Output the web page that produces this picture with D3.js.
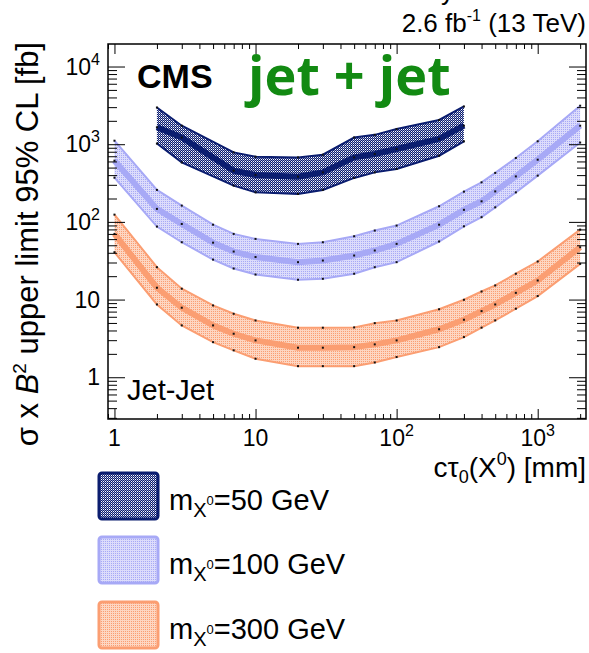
<!DOCTYPE html>
<html>
<head>
<meta charset="utf-8">
<script src="https://cdn.jsdelivr.net/npm/d3@7"></script>
<style>
  body { margin: 0; background: #fff; }
  text { font-family: "Liberation Sans", Arial, sans-serif; fill: #000; }
</style>
</head>
<body>
<svg id="chart" width="589" height="653"></svg>
<script>
    // proper decay length c*tau0 [mm]
    var ctau50 = [2, 3, 7, 10, 20, 30, 50, 70, 100, 200, 300];
    var ctau = [1, 2, 3, 5, 7, 10, 20, 30, 50, 70, 100, 200, 300, 400, 500, 700, 1000, 2000];

    // m = 50 GeV : expected limit and band edges [fb]
    var exp50 = [1650, 1220, 456, 402, 382, 434, 677, 748, 868, 1170, 1730];
    var hi50  = [2970, 1730, 785, 691, 676, 733, 1220, 1320, 1570, 2050, 3060];
    var lo50  = [1020, 583, 293, 240, 229, 258, 368, 434, 480, 711, 1090];

    // m = 100 GeV
    var exp100 = [614, 147, 94, 54, 41.5, 35.3, 30.3, 31.8, 36.9, 42.8, 52.1, 92, 143, 184, 247, 385, 632, 1730];
    var hi100  = [1110, 258, 162, 92, 70, 60.4, 52.1, 54.7, 65.3, 77.3, 89.6, 159, 245, 323, 427, 665, 1090, 3130];
    var lo100  = [371, 87, 54.7, 32.7, 25.1, 21.0, 18.0, 18.5, 21.5, 26.1, 30.3, 55.9, 87.7, 115, 154, 240, 394, 1050];

    // m = 300 GeV
    var exp300 = [70, 14.2, 7.85, 4.65, 3.63, 2.98, 2.40, 2.40, 2.44, 2.65, 2.98, 4.15, 5.5, 7.1, 8.65, 12.2, 17.6, 47.2];
    var hi300  = [124, 26.1, 13.8, 8.4, 6.56, 5.38, 4.34, 4.34, 4.38, 4.97, 5.38, 7.5, 9.94, 12.7, 15.2, 21.5, 30.9, 79.6];
    var lo300  = [40.7, 8.65, 4.65, 2.83, 2.22, 1.73, 1.39, 1.39, 1.39, 1.55, 1.82, 2.44, 3.29, 4.35, 5.39, 7.62, 11.1, 28.8];

    var massLabels = ["50", "100", "300"];
    var xTickLabels = [["1", ""], ["10", ""], ["10", "2"], ["10", "3"]];
    var yTickLabels = [["1", ""], ["10", ""], ["10", "2"], ["10", "3"], ["10", "4"]];

    var xDomain = [0.9, 2200];
    var yDomain = [0.29, 19500];

    var W = 589, H = 653;
    var fL = 108, fR = 586, fT = 44, fB = 419;

    var svg = d3.select("#chart");
    svg.append("rect").attr("width", W).attr("height", H).attr("fill", "#fff");

    var x = d3.scaleLog().domain(xDomain).range([fL, fR]);
    var y = d3.scaleLog().domain(yDomain).range([fB, fT]);

    var colors = {
        navy: "#0b1d6f",
        navyTint: "#8d94c2",
        blue: "#a7a9f6",
        blueTint: "#dcdcfb",
        orange: "#fb9e72",
        orangeTint: "#fdd6c2"
    };

    // dotted fill patterns (ROOT style)
    var defs = svg.append("defs");
    function dotted(id, bg, dot, dot2) {
        var p = defs.append("pattern").attr("id", id)
            .attr("width", 2).attr("height", 2).attr("patternUnits", "userSpaceOnUse");
        p.append("rect").attr("width", 2).attr("height", 2).attr("fill", bg);
        p.append("rect").attr("x", 1).attr("y", 1).attr("width", 1).attr("height", 1).attr("fill", dot);
        if (dot2) p.append("rect").attr("x", 0).attr("y", 0).attr("width", 1).attr("height", 1).attr("fill", dot2);
    }
    dotted("pNavy", colors.navy, "#fff", colors.navyTint);
    dotted("pBlue", colors.blueTint, colors.blue);
    dotted("pOrange", colors.orangeTint, colors.orange);

    var clip = defs.append("clipPath").attr("id", "plotClip");
    clip.append("rect").attr("x", fL).attr("y", fT).attr("width", fR - fL).attr("height", fB - fT);

    var series = [
        { xs: ctau, exp: exp300, hi: hi300, lo: lo300, col: colors.orange, fill: "url(#pOrange)", edge: 2, mid: 6 },
        { xs: ctau, exp: exp100, hi: hi100, lo: lo100, col: colors.blue, fill: "url(#pBlue)", edge: 2, mid: 6 },
        { xs: ctau50, exp: exp50, hi: hi50, lo: lo50, col: colors.navy, fill: "url(#pNavy)", edge: 2, mid: 6 }
    ];

    var plot = svg.append("g").attr("clip-path", "url(#plotClip)");

    series.forEach(function (s) {
        var idx = d3.range(s.xs.length);
        var area = d3.area()
            .x(function (i) { return x(s.xs[i]); })
            .y0(function (i) { return y(s.lo[i]); })
            .y1(function (i) { return y(s.hi[i]); });
        var line = function (arr) {
            return d3.line()
                .x(function (i) { return x(s.xs[i]); })
                .y(function (i) { return y(arr[i]); })(idx);
        };
        var g = plot.append("g");
        g.append("path").attr("d", area(idx)).attr("fill", s.fill);
        g.append("path").attr("d", line(s.hi)).attr("fill", "none")
            .attr("stroke", s.col).attr("stroke-width", s.edge);
        g.append("path").attr("d", line(s.lo)).attr("fill", "none")
            .attr("stroke", s.col).attr("stroke-width", s.edge);
        g.append("path").attr("d", line(s.exp)).attr("fill", "none")
            .attr("stroke", s.col).attr("stroke-width", s.mid).attr("stroke-linejoin", "round");
        [s.hi, s.exp, s.lo].forEach(function (arr) {
            g.selectAll(null).data(idx).enter().append("rect")
                .attr("x", function (i) { return x(s.xs[i]) - 1; })
                .attr("y", function (i) { return y(arr[i]) - 1; })
                .attr("width", 2).attr("height", 2)
                .attr("fill", "#111");
        });
    });

    // axes, ROOT style: ticks inside on all four sides
    var xAll = x.ticks();
    var yAll = y.ticks();
    function isMajor(v) { return Math.abs(Math.log10(v) - Math.round(Math.log10(v))) < 1e-6; }
    var xMaj = xAll.filter(isMajor), xMin = xAll.filter(function (v) { return !isMajor(v); });
    var yMaj = yAll.filter(isMajor), yMin = yAll.filter(function (v) { return !isMajor(v); });

    function drawAxis(gen, tf, vals, size) {
        var g = svg.append("g").attr("transform", tf)
            .call(gen.tickValues(vals).tickSize(size).tickSizeOuter(0).tickFormat(""));
        g.select(".domain").remove();
        g.selectAll("line").attr("stroke", "#000").attr("stroke-width", 1);
    }
    drawAxis(d3.axisBottom(x), "translate(0," + fB + ")", xMaj, -10);
    drawAxis(d3.axisBottom(x), "translate(0," + fB + ")", xMin, -5);
    drawAxis(d3.axisTop(x), "translate(0," + fT + ")", xMaj, -10);
    drawAxis(d3.axisTop(x), "translate(0," + fT + ")", xMin, -5);
    drawAxis(d3.axisLeft(y), "translate(" + fL + ",0)", yMaj, -17);
    drawAxis(d3.axisLeft(y), "translate(" + fL + ",0)", yMin, -9);
    drawAxis(d3.axisRight(y), "translate(" + fR + ",0)", yMaj, -17);
    drawAxis(d3.axisRight(y), "translate(" + fR + ",0)", yMin, -9);

    svg.append("rect").attr("x", fL).attr("y", fT)
        .attr("width", fR - fL).attr("height", fB - fT)
        .attr("fill", "none").attr("stroke", "#000").attr("stroke-width", 1.5);

    // tick labels
    xMaj.forEach(function (v, i) {
        var t = svg.append("text").attr("x", x(v)).attr("y", 446)
            .attr("text-anchor", "middle").style("font-size", "23px");
        t.append("tspan").text(xTickLabels[i][0]);
        if (xTickLabels[i][1]) t.append("tspan").attr("dy", -10).style("font-size", "16px").text(xTickLabels[i][1]);
    });
    yMaj.forEach(function (v, i) {
        var t = svg.append("text").attr("x", 100).attr("y", y(v) + 8)
            .attr("text-anchor", "end").style("font-size", "23px");
        t.append("tspan").text(yTickLabels[i][0]);
        if (yTickLabels[i][1]) t.append("tspan").attr("dy", -10).style("font-size", "16px").text(yTickLabels[i][1]);
    });

    // axis titles
    var xt = svg.append("text").attr("x", fR).attr("y", 477)
        .attr("text-anchor", "end").style("font-size", "28px");
    xt.append("tspan").text("c\u03c4");
    xt.append("tspan").attr("dy", 6).style("font-size", "18px").text("0");
    xt.append("tspan").attr("dy", -6).text("(X");
    xt.append("tspan").attr("dy", -12).style("font-size", "18px").text("0");
    xt.append("tspan").attr("dy", 12).text(") [mm]");

    var yt = svg.append("text").attr("transform", "translate(38," + (fT - 2) + ") rotate(-90)")
        .attr("text-anchor", "end").style("font-size", "31px");
    yt.append("tspan").text("\u03c3 x ");
    yt.append("tspan").style("font-style", "italic").text("B");
    yt.append("tspan").attr("dy", -12).style("font-size", "19px").text("2");
    yt.append("tspan").attr("dy", 12).text(" upper limit 95% CL [fb]");

    // labels in and above the frame
    var lumi = svg.append("text").attr("x", fR).attr("y", 32)
        .attr("text-anchor", "end").style("font-size", "26px");
    lumi.append("tspan").text("2.6 fb");
    lumi.append("tspan").attr("dy", -11).style("font-size", "16px").text("-1");
    lumi.append("tspan").attr("dy", 11).text(" (13 TeV)");

    svg.append("text").attr("x", 441).attr("y", 0).style("font-size", "26px").text("y");

    svg.append("text").attr("x", 137).attr("y", 88)
        .style("font-size", "34px").style("font-weight", "bold").text("CMS");
    svg.append("text").attr("x", 248).attr("y", 95)
        .style("font-family", "'Open Sans', sans-serif").style("font-size", "54px")
        .style("font-weight", "bold").style("fill", "#128a12").text("jet + jet");
    svg.append("text").attr("x", 127).attr("y", 400).style("font-size", "29px").text("Jet-Jet");

    // legend
    var legFill = ["url(#pNavy)", "url(#pBlue)", "url(#pOrange)"];
    var legCol = [colors.navy, colors.blue, colors.orange];
    var legY = [473, 537, 602];
    massLabels.forEach(function (m, i) {
        svg.append("rect").attr("x", 99).attr("y", legY[i]).attr("width", 59).attr("height", 46)
            .attr("rx", 3).attr("fill", legFill[i]).attr("stroke", legCol[i]).attr("stroke-width", 3);
        var t = svg.append("text").attr("x", 169).attr("y", legY[i] + 37).style("font-size", "29px");
        t.append("tspan").text("m");
        t.append("tspan").attr("dy", 7).style("font-size", "20px").text("X");
        t.append("tspan").attr("dy", -12).style("font-size", "13px").text("0");
        t.append("tspan").attr("dy", 5).text("=" + m + " GeV");
    });
</script>
</body>
</html>
